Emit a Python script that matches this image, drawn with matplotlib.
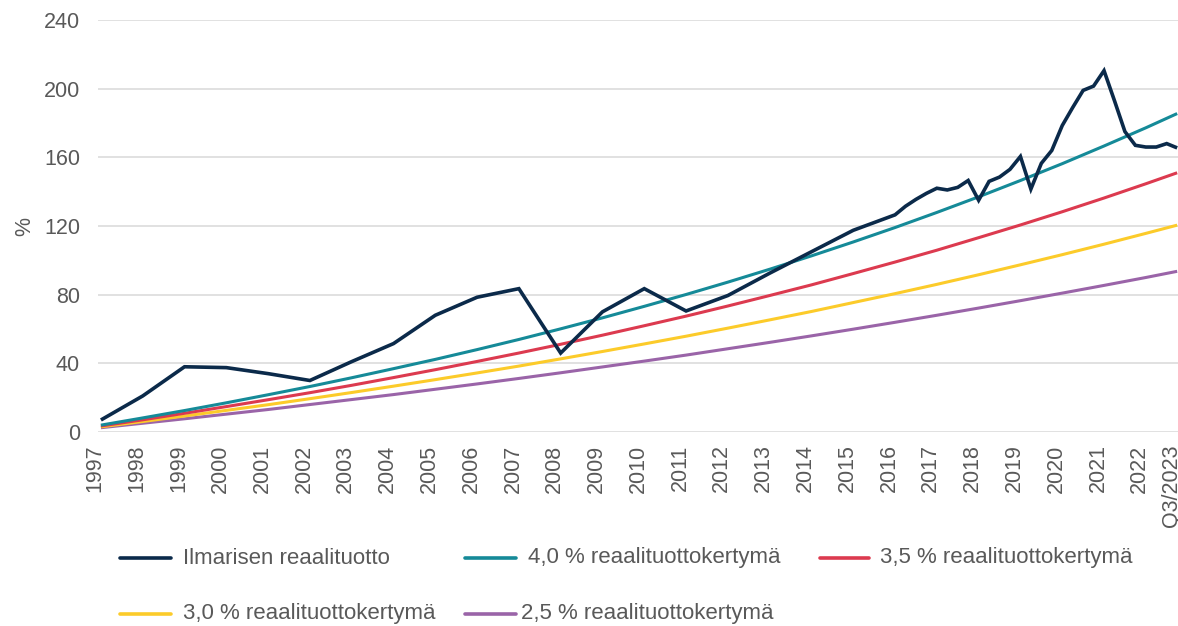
"""
Ilmarisen reaalituotto vs. constant real-return accumulation paths,
1997 – Q3/2023. Saves the figure as out.png.
"""

import numpy as np
import matplotlib.pyplot as plt
import matplotlib.transforms as mtransforms
from matplotlib.lines import Line2D

# ──────────────────────────────────────────────
# Data
# ──────────────────────────────────────────────
# Tick positions: year ends, last one is Q3/2023 (three quarters after 2022)
TICK_POS = list(range(1997, 2023)) + [2022.75]
TICK_LABELS = [str(y) for y in range(1997, 2023)] + ["Q3/2023"]

# Ilmarinen cumulative real return (%): annual to 2015, quarterly after
ILMA_X = list(range(1997, 2016)) + list(np.arange(2016.0, 2022.76, 0.25))
ILMA_Y = [
    7, 21, 38, 37.5, 34, 30, 41, 51.5, 68, 78.5,
    83.5, 46, 70, 83.5, 70.5, 79.5, 92.5, 105, 117.5,
    # 2016 – Q3/2023 quarterly
    126.5, 131.5, 135.5, 139,
    142, 141, 142.5, 146.5,
    135, 146, 148.5, 153,
    160.5, 141.5, 156.5, 164,
    178.5, 189, 199, 201.5,
    210.5, 193, 175, 167,
    166, 166, 168, 165.5,
]

# Cumulative real return at a constant yearly rate (%)
RATE_X = TICK_POS
RATE_40 = [4.0, 8.2, 12.5, 17.0, 21.7, 26.5, 31.6, 36.9, 42.3, 48.0,
           53.9, 60.1, 66.5, 73.2, 80.1, 87.3, 94.8, 102.6, 110.7, 119.1,
           127.9, 137.0, 146.5, 156.3, 166.6, 177.2, 185.5]
RATE_35 = [3.5, 7.1, 10.9, 14.8, 18.8, 22.9, 27.2, 31.7, 36.3, 41.1,
           46.0, 51.1, 56.4, 61.9, 67.5, 73.4, 79.5, 85.7, 92.3, 99.0,
           105.9, 113.2, 120.6, 128.3, 136.3, 144.6, 151.0]
RATE_30 = [3.0, 6.1, 9.3, 12.6, 15.9, 19.4, 23.0, 26.7, 30.5, 34.4,
           38.4, 42.6, 46.9, 51.3, 55.8, 60.5, 65.3, 70.2, 75.4, 80.6,
           86.0, 91.6, 97.4, 103.3, 109.4, 115.7, 120.5]
RATE_25 = [2.5, 5.1, 7.7, 10.4, 13.1, 16.0, 18.9, 21.8, 24.9, 28.0,
           31.2, 34.5, 37.9, 41.3, 44.8, 48.5, 52.2, 56.0, 59.9, 63.9,
           68.0, 72.2, 76.5, 80.9, 85.4, 90.0, 93.6]

Y_TICKS = [0, 40, 80, 120, 160, 200, 240]

# ──────────────────────────────────────────────
# Style
# ──────────────────────────────────────────────
NAVY = "#0b2a4a"
TEAL = "#158a98"
RED = "#dc3a4f"
YELLOW = "#fccb2a"
PURPLE = "#9a64a8"
TEXT = "#595959"
GRID = "#d9d9d9"
FS_TICK = 15.5
FS_LEGEND = 16

plt.rcParams["font.family"] = ["Liberation Sans", "DejaVu Sans"]

W, H = 1178, 626
fig = plt.figure(figsize=(W / 100, H / 100), dpi=100)
ax = fig.add_axes([98 / W, 1 - 432 / H, 1 - 98 / W, (432 - 20) / H])

series = [
    (ILMA_X, ILMA_Y, NAVY, 2.6, "Ilmarisen reaalituotto"),
    (RATE_X, RATE_40, TEAL, 2.2, "4,0 % reaalituottokertymä"),
    (RATE_X, RATE_35, RED, 2.2, "3,5 % reaalituottokertymä"),
    (RATE_X, RATE_30, YELLOW, 2.2, "3,0 % reaalituottokertymä"),
    (RATE_X, RATE_25, PURPLE, 2.2, "2,5 % reaalituottokertymä"),
]
# draw the accumulation paths first, own return on top
for x, y, c, lw, _ in series[::-1]:
    ax.plot(x, y, color=c, linewidth=lw, solid_joinstyle="miter",
            solid_capstyle="butt", zorder=3)

ax.set_xlim(1996.93, 2022.77)
ax.set_ylim(0, 240)
ax.set_yticks(Y_TICKS)
ax.set_xticks(TICK_POS)
ax.set_xticklabels(TICK_LABELS, rotation=90)
ax.grid(axis="y", color=GRID, linewidth=1.1, zorder=0)
ax.grid(axis="x", visible=False)
for s in ax.spines.values():
    s.set_visible(False)
ax.tick_params(axis="both", length=0, labelsize=FS_TICK, labelcolor=TEXT)
ax.tick_params(axis="y", pad=13)
ax.tick_params(axis="x", pad=9)

# year labels sit slightly left of their points
shift = mtransforms.ScaledTranslation(-6 / 100, 0, fig.dpi_scale_trans)
for lab in ax.get_xticklabels():
    lab.set_transform(lab.get_transform() + shift)

fig.text(25 / W, 1 - 226 / H, "%", rotation=90, fontsize=FS_TICK, color=TEXT,
         ha="center", va="center")

# ──────────────────────────────────────────────
# Legend (two rows, laid out by hand)
# ──────────────────────────────────────────────
legend_items = [
    (series[0], 120, 171, 183, 558),
    (series[1], 465, 516, 528, 558),
    (series[2], 820, 869, 880, 558),
    (series[3], 120, 171, 183, 614),
    (series[4], 465, 516, 521, 614),
]
for (_, _, c, _, label), x0, x1, xt, yp in legend_items:
    yf = 1 - yp / H
    fig.add_artist(Line2D([x0 / W, x1 / W], [yf, yf], color=c,
                          linewidth=2.6, solid_capstyle="round",
                          transform=fig.transFigure))
    fig.text(xt / W, yf, label, fontsize=FS_LEGEND, color=TEXT,
             ha="left", va="center")

fig.savefig("out.png", dpi=100)
